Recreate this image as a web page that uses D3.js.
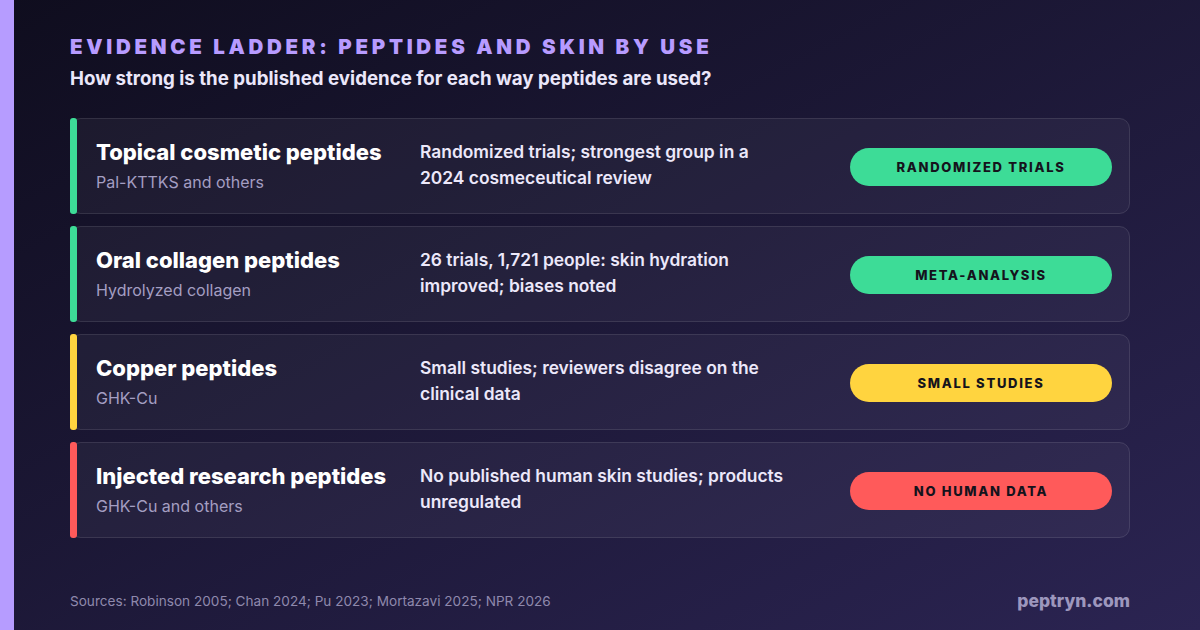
<!DOCTYPE html>
<html>
<head>
<meta charset="utf-8">
<script src="https://cdn.jsdelivr.net/npm/d3@7"></script>
<style>
  html, body { margin: 0; padding: 0; background: #100e20; }
  svg { display: block; font-family: Inter, "Noto Sans", sans-serif; }
</style>
</head>
<body>
<div class="visualization"></div>
<script>
// Evidence ladder data, one entry per way peptides are used
var uses = ['Topical cosmetic peptides', 'Oral collagen peptides', 'Copper peptides', 'Injected research peptides'];
var examples = ['Pal-KTTKS and others', 'Hydrolyzed collagen', 'GHK-Cu', 'GHK-Cu and others'];
var findings = [
  ['Randomized trials; strongest group in a', '2024 cosmeceutical review'],
  ['26 trials, 1,721 people: skin hydration', 'improved; biases noted'],
  ['Small studies; reviewers disagree on the', 'clinical data'],
  ['No published human skin studies; products', 'unregulated']
];
var levels = ['RANDOMIZED TRIALS', 'META-ANALYSIS', 'SMALL STUDIES', 'NO HUMAN DATA'];
var grades = ['strong', 'strong', 'mixed', 'none'];

var W = 1200, H = 630;

var svg = d3.select('.visualization')
  .append('svg')
  .attr('width', W)
  .attr('height', H);

var defs = svg.append('defs');
var bg = defs.append('linearGradient')
  .attr('id', 'bg')
  .attr('x1', '0%').attr('y1', '0%')
  .attr('x2', '100%').attr('y2', '100%');
bg.append('stop').attr('offset', '0%').attr('stop-color', '#0f0d1e');
bg.append('stop').attr('offset', '100%').attr('stop-color', '#2b2452');

svg.append('rect').attr('width', W).attr('height', H).attr('fill', 'url(#bg)');
// purple stripe down the left edge
svg.append('rect').attr('width', 14).attr('height', H).attr('fill', '#b69cff');

// heading
svg.append('text')
  .attr('x', 70).attr('y', 54)
  .attr('fill', '#b79bff')
  .attr('font-size', 20.5)
  .attr('font-weight', 900)
  .attr('letter-spacing', 3.7)
  .text('EVIDENCE LADDER: PEPTIDES AND SKIN BY USE');

svg.append('text')
  .attr('x', 70).attr('y', 85)
  .attr('fill', '#ebe7fa')
  .attr('font-size', 18.7)
  .attr('font-weight', 700)
  .text('How strong is the published evidence for each way peptides are used?');

var color = d3.scaleOrdinal()
  .domain(['strong', 'mixed', 'none'])
  .range(['#3ddc97', '#ffd43f', '#ff5a5a']);

// rows: 96px cards with 12px gaps
var y = d3.scaleBand()
  .domain(uses)
  .range([118, 538])
  .paddingInner(12 / 108)
  .paddingOuter(0);

var rows = svg.selectAll('g.row')
  .data(uses)
  .enter().append('g')
  .attr('class', 'row')
  .attr('transform', function(d) { return 'translate(70,' + y(d) + ')'; });

var cardW = 1060, h = y.bandwidth();

rows.append('rect')
  .attr('x', 0.5).attr('y', 0.5)
  .attr('width', cardW - 1).attr('height', h - 1)
  .attr('rx', 10)
  .attr('fill', 'rgba(255,255,255,0.045)')
  .attr('stroke', 'rgba(255,255,255,0.12)');

// colour accent on the left of each card
rows.append('rect')
  .attr('x', 0).attr('y', 0)
  .attr('width', 7).attr('height', h)
  .attr('rx', 3)
  .attr('fill', function(d, i) { return color(grades[i]); });

rows.append('text')
  .attr('x', 26).attr('y', 42)
  .attr('fill', '#ffffff')
  .attr('font-size', 22)
  .attr('font-weight', 800)
  .text(function(d) { return d; });

rows.append('text')
  .attr('x', 26).attr('y', 70)
  .attr('fill', '#a49ec2')
  .attr('font-size', 16)
  .text(function(d, i) { return examples[i]; });

rows.append('text')
  .attr('fill', '#ece8fa')
  .attr('font-size', 17.4)
  .attr('font-weight', 600)
  .selectAll('tspan')
  .data(function(d, i) { return findings[i]; })
  .enter().append('tspan')
  .attr('x', 350)
  .attr('y', function(d, j) { return 40 + j * 26; })
  .text(function(d) { return d; });

// evidence pill
rows.append('rect')
  .attr('x', 780).attr('y', 30)
  .attr('width', 262).attr('height', 38)
  .attr('rx', 19)
  .attr('fill', function(d, i) { return color(grades[i]); });

rows.append('text')
  .attr('x', 911).attr('y', 54)
  .attr('text-anchor', 'middle')
  .attr('fill', '#15131c')
  .attr('font-size', 13)
  .attr('font-weight', 800)
  .attr('letter-spacing', 1.7)
  .text(function(d, i) { return levels[i]; });

// footer
svg.append('text')
  .attr('x', 70).attr('y', 606)
  .attr('fill', '#8f89ad')
  .attr('font-size', 13.6)
  .text('Sources: Robinson 2005; Chan 2024; Pu 2023; Mortazavi 2025; NPR 2026');

svg.append('text')
  .attr('x', 1130).attr('y', 607)
  .attr('text-anchor', 'end')
  .attr('fill', '#9d97bd')
  .attr('font-size', 17.5)
  .attr('font-weight', 800)
  .text('peptryn.com');
</script>
</body>
</html>
